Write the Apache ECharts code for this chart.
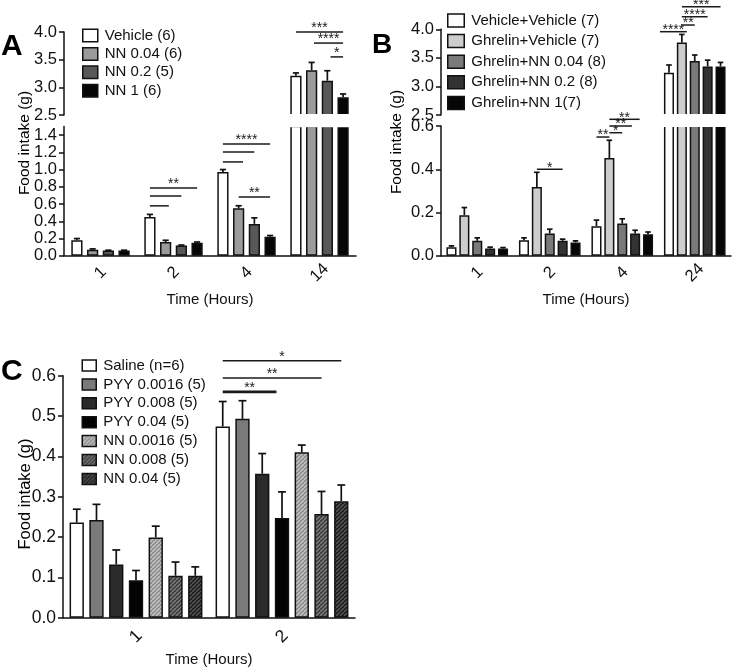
<!DOCTYPE html>
<html><head><meta charset="utf-8">
<script src="https://cdn.jsdelivr.net/npm/echarts@6/dist/echarts.min.js"></script>
<style>html,body{margin:0;padding:0;background:#fff}#c{width:733px;height:670px}</style>
</head><body><div id="c"></div>
<script>
const FONT = '"Liberation Sans", Arial, Helvetica, sans-serif';

// ---------------- Panel A data ----------------
const catsA = ['1', '2', '4', '14'];
const namesA = ['Vehicle (6)', 'NN 0.04 (6)', 'NN 0.2 (5)', 'NN 1 (6)'];
const vehicleA = [0.18, 0.45, 0.97, 3.21];
const vehicleA_sem = [0.02, 0.03, 0.03, 0.05];
const nn004A = [0.07, 0.16, 0.55, 3.31];
const nn004A_sem = [0.01, 0.02, 0.03, 0.14];
const nn02A = [0.06, 0.12, 0.37, 3.12];
const nn02A_sem = [0.005, 0.005, 0.07, 0.18];
const nn1A = [0.06, 0.15, 0.22, 2.82];
const nn1A_sem = [0.005, 0.01, 0.015, 0.06];
const yA_lower = [0, 1.5, 0.2];   // min, max, interval
const yA_upper = [2.5, 4.0, 0.5];
// significance: [category, from bar, to bar, value, stars]
const sigA = [
  [1, 0, 3, 0.787, '**'], [1, 0, 2, 0.694, ''], [1, 0, 1.2, 0.579, ''],
  [2, 0, 3, 1.296, '****'], [2, 0, 2, 1.204, ''], [2, 0, 1.28, 1.088, ''], [2, 1, 3, 0.683, '**'],
  [3, 0, 3, 4.0, '***'], [3, 1.15, 3, 3.80, '****'], [3, 2.2, 3, 3.55, '*']
];

// ---------------- Panel B data ----------------
const catsB = ['1', '2', '4', '24'];
const namesB = ['Vehicle+Vehicle (7)', 'Ghrelin+Vehicle (7)', 'Ghrelin+NN 0.04 (8)', 'Ghrelin+NN 0.2 (8)', 'Ghrelin+NN 1(7)'];
const vvB = [0.040, 0.072, 0.137, 3.24];
const vvB_sem = [0.006, 0.011, 0.028, 0.135];
const gvB = [0.188, 0.318, 0.452, 3.77];
const gvB_sem = [0.035, 0.068, 0.082, 0.14];
const g004B = [0.069, 0.103, 0.149, 3.445];
const g004B_sem = [0.014, 0.020, 0.022, 0.105];
const g02B = [0.034, 0.069, 0.103, 3.35];
const g02B_sem = [0.006, 0.008, 0.015, 0.11];
const g1B = [0.034, 0.062, 0.100, 3.35];
const g1B_sem = [0.004, 0.007, 0.010, 0.07];
const yB_lower = [0, 0.6, 0.2];
const yB_upper = [2.5, 4.0, 0.5];
const sigB = [
  [1, 1, 3, 0.40, '*'],
  [2, 0, 1, 0.549, '**'], [2, 1, 2, 0.569, '*'], [2, 1, 2.75, 0.60, '**'], [2, 1, 3.35, 0.631, '**'],
  [3, -0.7, 1.38, 3.958, '****'], [3, 1, 2, 4.075, '**'], [3, 1, 3, 4.22, '****'], [3, 1, 4, 4.395, '***']
];

// ---------------- Panel C data ----------------
const catsC = ['1', '2'];
const namesC = ['Saline (n=6)', 'PYY 0.0016 (5)', 'PYY 0.008 (5)', 'PYY 0.04 (5)', 'NN 0.0016 (5)', 'NN 0.008 (5)', 'NN 0.04 (5)'];
const salineC = [0.236, 0.474];
const salineC_sem = [0.033, 0.062];
const pyy0016C = [0.242, 0.493];
const pyy0016C_sem = [0.039, 0.045];
const pyy008C = [0.132, 0.357];
const pyy008C_sem = [0.036, 0.050];
const pyy04C = [0.093, 0.247];
const pyy04C_sem = [0.024, 0.065];
const nn0016C = [0.199, 0.410];
const nn0016C_sem = [0.028, 0.018];
const nn008C = [0.104, 0.257];
const nn008C_sem = [0.034, 0.056];
const nn04C = [0.104, 0.289];
const nn04C_sem = [0.022, 0.040];
const yC = [0, 0.6, 0.1];
const sigC = [
  [1, 0, 6, 0.637, '*'], [1, 0, 5, 0.594, '**'], [1, 0, 2.72, 0.56, '**']
];

// ---------------- styles / layout ----------------
function hatch(base, stripe) {
  const s = 4, c = document.createElement('canvas');
  c.width = s; c.height = s;
  const g = c.getContext('2d');
  g.fillStyle = base; g.fillRect(0, 0, s, s);
  g.strokeStyle = stripe; g.lineWidth = 1.3;
  [-s, 0, s].forEach(k => { g.beginPath(); g.moveTo(k, s); g.lineTo(k + s, 0); g.stroke(); });
  return { image: c, repeat: 'repeat' };
}
const colorsA = ['#ffffff', '#9b9b9b', '#585858', '#060606'];
const colorsB = ['#ffffff', '#cdcdcd', '#7a7a7a', '#333333', '#060606'];
const colorsC = ['#ffffff', '#7a7a7a', '#2b2b2b', '#030303',
  hatch('#8a8a8a', '#c8c8c8'), hatch('#3a3a3a', '#808080'), hatch('#1b1b1b', '#5a5a5a')];
const sigWidthC = [1.5, 1.5, 2.6];

const L = {
  A: { up: { left: 64, top: 32, width: 292, height: 83 }, lo: { left: 64, top: 126.4, width: 292, height: 129.4 },
       catGap: 0.2, gap: 0.4, tickFont: 16.5, xMargin: 17, nameGap: 37, starDy: 3.5 },
  B: { up: { left: 441, top: 29.3, width: 290, height: 85.7 }, lo: { left: 441, top: 126, width: 290, height: 129.8 },
       catGap: 0.15, gap: 0.28, tickFont: 16.5, xMargin: 17, nameGap: 37, starDy: 1.5 },
  C: { lo: { left: 63, top: 375.7, width: 292, height: 242 },
       catGap: 0.09, gap: 0.38, tickFont: 17.5, xMargin: 19, nameGap: 35, starDy: 3.5 }
};

const grids = [], xAxes = [], yAxes = [], series = [];
const AX = '#111';
function addGrid(g) { grids.push(Object.assign({ outerBoundsMode: 'none', containLabel: false }, g)); return grids.length - 1; }
function addX(gi, cats, P, visible) {
  xAxes.push(visible ? {
    type: 'category', gridIndex: gi, data: cats,
    axisLine: { lineStyle: { color: AX, width: 1.5 } },
    axisTick: { alignWithLabel: true, length: 5, lineStyle: { color: AX, width: 1.5 } },
    axisLabel: { interval: 0, rotate: 45, align: 'center', verticalAlign: 'middle', margin: P.xMargin, fontSize: P.tickFont, color: AX, fontFamily: FONT },
    name: 'Time (Hours)', nameLocation: 'middle', nameGap: P.nameGap,
    nameTextStyle: { fontSize: 15, color: AX, fontFamily: FONT },
    splitLine: { show: false }
  } : { type: 'category', gridIndex: gi, data: cats, show: false });
  return xAxes.length - 1;
}
function addY(gi, r, P, hideMax) {
  yAxes.push({
    type: 'value', gridIndex: gi, min: r[0], max: r[1], interval: r[2],
    axisLine: { show: true, lineStyle: { color: AX, width: 1.5 } },
    axisTick: { show: true, length: 5, lineStyle: { color: AX, width: 1.5 } },
    splitLine: { show: false },
    axisLabel: { fontSize: P.tickFont, color: AX, fontFamily: FONT, margin: 7, showMaxLabel: !hideMax,
      formatter: v => (Math.round(v * 10) / 10).toFixed(1) }
  });
  return yAxes.length - 1;
}

function barPos(api, cat, idx, n, catGap, gap) {
  const band = api.size([1, 0])[0];
  const groupW = band * (1 - catGap);
  const w = groupW / (n + (n - 1) * gap);
  const cx = api.coord([cat, 0])[0];
  return { x: cx - groupW / 2 + idx * w * (1 + gap) + w / 2, w: w };
}

function addPanel(P, cats, names, means, sems, colors, yLo, yUp, sigs, sigWidths) {
  const n = names.length;
  const parts = [];
  const giLo = addGrid(P.lo);
  const xiLo = addX(giLo, cats, P, true);
  const offGrid = Math.abs(Math.round(yLo[1] / yLo[2]) * yLo[2] - yLo[1]) > 1e-9;
  const yiLo = addY(giLo, yLo, P, offGrid);
  parts.push({ xi: xiLo, yi: yiLo, r: yLo, filt: v => true });
  if (yUp) {
    const giUp = addGrid(P.up);
    const xiUp = addX(giUp, cats, P, false);
    const yiUp = addY(giUp, yUp, P, false);
    parts.push({ xi: xiUp, yi: yiUp, r: yUp, filt: v => v >= yUp[0] });
  }
  parts.forEach(pt => {
    means.forEach((m, k) => {
      series.push({
        type: 'bar', name: names[k], xAxisIndex: pt.xi, yAxisIndex: pt.yi,
        data: m.map(v => pt.filt(v) ? v : '-'),
        barGap: (P.gap * 100) + '%', barCategoryGap: (P.catGap * 100) + '%',
        itemStyle: { color: colors[k], borderColor: '#111', borderWidth: 1.5 },
        silent: true, animation: false
      });
    });
    const errData = [];
    means.forEach((m, k) => m.forEach((v, i) => {
      const top = v + sems[k][i];
      if (pt.filt(v) && top <= pt.r[1] + 1e-9 && top >= pt.r[0]) errData.push([i, top, v, k]);
    }));
    series.push({
      type: 'custom', xAxisIndex: pt.xi, yAxisIndex: pt.yi, silent: true, animation: false,
      encode: { x: 0, y: 1 }, data: errData, z: 5,
      renderItem: (params, api) => {
        const p = barPos(api, api.value(0), api.value(3), n, P.catGap, P.gap);
        const yt = api.coord([api.value(0), api.value(1)])[1];
        const ym = api.coord([api.value(0), api.value(2)])[1];
        const cap = p.w * 0.55;
        const st = { stroke: '#111', lineWidth: 1.7 };
        return { type: 'group', children: [
          { type: 'line', shape: { x1: p.x, y1: ym, x2: p.x, y2: yt }, style: st },
          { type: 'line', shape: { x1: p.x - cap / 2, y1: yt, x2: p.x + cap / 2, y2: yt }, style: st }
        ] };
      }
    });
  });
  sigs.forEach((s, si) => {
    const pt = (yUp && s[3] >= yUp[0]) ? parts[1] : parts[0];
    series.push({
      type: 'custom', xAxisIndex: pt.xi, yAxisIndex: pt.yi, silent: true, animation: false, z: 6,
      encode: { x: 0, y: 1 }, data: [[s[0], s[3]]],
      renderItem: (params, api) => {
        const p1 = barPos(api, s[0], s[1], n, P.catGap, P.gap);
        const p2 = barPos(api, s[0], s[2], n, P.catGap, P.gap);
        const y = api.coord([s[0], s[3]])[1];
        const lw = sigWidths ? sigWidths[si] : 1.5;
        const ch = [{ type: 'line', shape: { x1: p1.x, y1: y, x2: p2.x, y2: y }, style: { stroke: '#1a1a1a', lineWidth: lw } }];
        if (s[4]) ch.push({ type: 'text', style: { text: s[4], x: (p1.x + p2.x) / 2, y: y - P.starDy, align: 'center', verticalAlign: 'middle', font: '14px ' + FONT, fill: '#1a1a1a' } });
        return { type: 'group', children: ch };
      }
    });
  });
}

addPanel(L.A, catsA, namesA, [vehicleA, nn004A, nn02A, nn1A], [vehicleA_sem, nn004A_sem, nn02A_sem, nn1A_sem], colorsA, yA_lower, yA_upper, sigA);
addPanel(L.B, catsB, namesB, [vvB, gvB, g004B, g02B, g1B], [vvB_sem, gvB_sem, g004B_sem, g02B_sem, g1B_sem], colorsB, yB_lower, yB_upper, sigB);
addPanel(L.C, catsC, namesC, [salineC, pyy0016C, pyy008C, pyy04C, nn0016C, nn008C, nn04C],
  [salineC_sem, pyy0016C_sem, pyy008C_sem, pyy04C_sem, nn0016C_sem, nn008C_sem, nn04C_sem], colorsC, yC, null, sigC, sigWidthC);

function legend(names, left, top, iw, ih, gap) {
  return {
    data: names, orient: 'vertical', left: left, top: top, itemWidth: iw, itemHeight: ih, itemGap: gap,
    icon: 'rect', selectedMode: false, padding: 0, z: 8,
    itemStyle: { borderColor: '#111', borderWidth: 1.5 },
    textStyle: { fontSize: 15, color: '#111', fontFamily: FONT, padding: [0, 0, 0, 2] }
  };
}

function breakCover(P) {
  return { type: 'rect', z: 3, silent: true,
    shape: { x: P.up.left + 1.2, y: P.up.top + P.up.height - 0.9, width: P.up.width, height: P.lo.top - (P.up.top + P.up.height) + 1.8 },
    style: { fill: '#fff' } };
}
function txt(t, x, y, size, bold, rot) {
  return { type: 'text', x: x, y: y, rotation: rot || 0, z: 100, silent: true,
    style: { text: t, font: (bold ? 'bold ' : '') + size + 'px ' + FONT, fill: '#000', align: rot ? 'center' : 'left', verticalAlign: rot ? 'middle' : 'alphabetic' } };
}

const chart = echarts.init(document.getElementById('c'), null, { renderer: 'canvas' });
chart.setOption({
  animation: false,
  backgroundColor: '#fff',
  grid: grids, xAxis: xAxes, yAxis: yAxes, series: series,
  legend: [
    legend(namesA, 82, 28, 15, 12.5, 3.4),
    legend(namesB, 447, 13, 16.5, 13, 5.6),
    legend(namesC, 81.5, 358, 14, 11, 3.9)
  ],
  graphic: [
    breakCover(L.A), breakCover(L.B),
    txt('A', 1, 31.5, 30, true), txt('B', 372, 31.5, 28, true), txt('C', 1, 356.5, 30, true),
    txt('Food intake (g)', 25, 143, 15.5, false, Math.PI / 2),
    txt('Food intake (g)', 397, 142, 15.5, false, Math.PI / 2),
    txt('Food intake (g)', 25, 494, 16.5, false, Math.PI / 2)
  ]
});
</script></body></html>
